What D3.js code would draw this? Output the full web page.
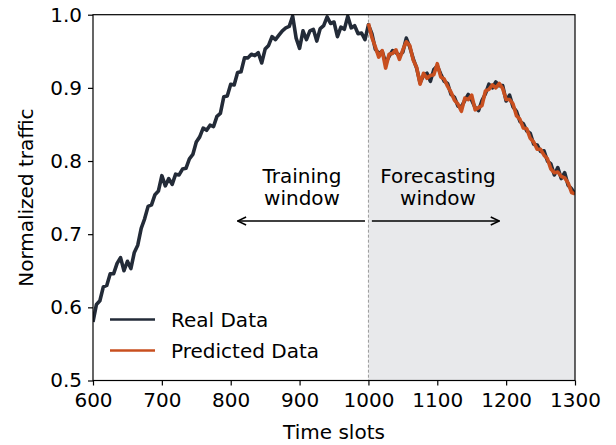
<!DOCTYPE html>
<html>
<head>
<meta charset="utf-8">
<script src="https://cdn.jsdelivr.net/npm/d3@7"></script>
<style>
  body { margin: 0; background: #fff; }
  text { font-family: "DejaVu Sans", sans-serif; fill: #000; }
</style>
</head>
<body>
<svg id="chart" width="616" height="445"></svg>
<script>
// data, one value every 5 time slots
var realStart = 600, step = 5;
var realValues = [
  0.580, 0.604, 0.609, 0.628, 0.630, 0.646, 0.646, 0.660, 0.668, 0.650,
  0.663, 0.653, 0.675, 0.685, 0.708, 0.721, 0.738, 0.740, 0.754, 0.759,
  0.780, 0.766, 0.776, 0.768, 0.782, 0.781, 0.789, 0.790, 0.803, 0.809,
  0.826, 0.833, 0.845, 0.842, 0.849, 0.847, 0.861, 0.865, 0.888, 0.889,
  0.905, 0.904, 0.921, 0.922, 0.941, 0.941, 0.946, 0.944, 0.948, 0.934,
  0.953, 0.958, 0.970, 0.966, 0.972, 0.978, 0.982, 0.984, 0.998, 0.968,
  0.954, 0.978, 0.966, 0.978, 0.980, 0.964, 0.981, 0.985, 0.997, 0.988,
  0.990, 0.970, 0.983, 0.980, 0.998, 0.982, 0.985, 0.974, 0.975, 0.966,
  0.986, 0.974, 0.953, 0.947, 0.950, 0.934, 0.943, 0.951, 0.948, 0.944,
  0.949, 0.968, 0.956, 0.940, 0.927, 0.907, 0.917, 0.920, 0.909, 0.925,
  0.930, 0.919, 0.909, 0.906, 0.891, 0.887, 0.875, 0.874, 0.883, 0.891,
  0.883, 0.873, 0.869, 0.883, 0.892, 0.905, 0.900, 0.908, 0.903, 0.903,
  0.882, 0.890, 0.874, 0.868, 0.854, 0.851, 0.841, 0.838, 0.823, 0.822,
  0.813, 0.814, 0.800, 0.796, 0.781, 0.791, 0.776, 0.784, 0.767, 0.762,
  0.755
];
var predStart = 1000;
var predValues = [
  0.988, 0.969, 0.956, 0.942, 0.951, 0.927, 0.946, 0.947, 0.952, 0.939,
  0.952, 0.963, 0.958, 0.938, 0.928, 0.905, 0.920, 0.913, 0.917, 0.918,
  0.933, 0.915, 0.912, 0.902, 0.894, 0.883, 0.878, 0.868, 0.886, 0.884,
  0.890, 0.870, 0.873, 0.876, 0.896, 0.898, 0.904, 0.900, 0.906, 0.899,
  0.884, 0.884, 0.878, 0.862, 0.857, 0.845, 0.844, 0.831, 0.826, 0.816,
  0.816, 0.808, 0.803, 0.789, 0.784, 0.785, 0.779, 0.777, 0.770, 0.757,
  0.755
];
var xTicks = [600, 700, 800, 900, 1000, 1100, 1200, 1300];
var yTicks = [0.5, 0.6, 0.7, 0.8, 0.9, 1.0];
var splitAt = 1000;
var arrowY = 0.718;
var trainArrow = [995, 810];
var forecastArrow = [1005, 1190];

var svg = d3.select("#chart");
var margin = {top: 14.7, right: 41, bottom: 64.5, left: 93};
var width = 616 - margin.left - margin.right;
var height = 445 - margin.top - margin.bottom;

var x = d3.scaleLinear().domain([600, 1300]).range([0, width]);
var y = d3.scaleLinear().domain([0.5, 1.0]).range([height, 0]);

var g = svg.append("g").attr("transform", "translate(" + margin.left + "," + margin.top + ")");

// forecasting window shading
g.append("rect")
  .attr("x", x(splitAt))
  .attr("y", 0)
  .attr("width", x(1300) - x(splitAt))
  .attr("height", height)
  .attr("fill", "#e8e9eb");

g.append("line")
  .attr("x1", x(splitAt)).attr("x2", x(splitAt))
  .attr("y1", 0).attr("y2", height)
  .attr("stroke", "#9a9a9a")
  .attr("stroke-width", 1)
  .attr("stroke-dasharray", "3,2");

var realData = realValues.map(function(v, i) { return {t: realStart + i * step, v: v}; });
var predData = predValues.map(function(v, i) { return {t: predStart + i * step, v: v}; });

var line = d3.line()
  .x(function(d) { return x(d.t); })
  .y(function(d) { return y(d.v); });

// clip so the peaks do not cross the top spine
g.append("clipPath").attr("id", "plot")
  .append("rect").attr("width", width).attr("height", height);

g.append("path")
  .datum(realData)
  .attr("d", line)
  .attr("clip-path", "url(#plot)")
  .attr("fill", "none")
  .attr("stroke", "#232b38")
  .attr("stroke-width", 3.6)
  .attr("stroke-linejoin", "round");

g.append("path")
  .datum(predData)
  .attr("d", line)
  .attr("clip-path", "url(#plot)")
  .attr("fill", "none")
  .attr("stroke", "#c84f1f")
  .attr("stroke-width", 3.6)
  .attr("stroke-linejoin", "round");

// axes
var xAxis = g.append("g")
  .attr("transform", "translate(0," + height + ")")
  .call(d3.axisBottom(x).tickValues(xTicks).tickSize(5).tickPadding(4).tickFormat(d3.format("d")));
var yAxis = g.append("g")
  .call(d3.axisLeft(y).tickValues(yTicks).tickSize(5).tickPadding(6).tickFormat(d3.format(".1f")));

[xAxis, yAxis].forEach(function(a) {
  a.select(".domain").remove();
  a.selectAll(".tick line").attr("stroke", "#000").attr("stroke-width", 1.2);
  a.selectAll(".tick text").style("font-size", "20px").attr("fill", "#000");
});
xAxis.selectAll(".tick text").attr("dy", "0.85em");

// frame
g.append("rect")
  .attr("width", width).attr("height", height)
  .attr("fill", "none")
  .attr("stroke", "#000")
  .attr("stroke-width", 1.2);

// axis titles
svg.append("text")
  .attr("x", margin.left + width / 2)
  .attr("y", 439)
  .attr("text-anchor", "middle")
  .style("font-size", "20px")
  .text("Time slots");

svg.append("text")
  .attr("transform", "translate(33," + (margin.top + height / 2) + ") rotate(-90)")
  .attr("text-anchor", "middle")
  .style("font-size", "20px")
  .text("Normalized traffic");

// annotations
svg.append("defs").append("marker")
  .attr("id", "head")
  .attr("viewBox", "0 0 10 10")
  .attr("refX", 9.5).attr("refY", 5)
  .attr("markerWidth", 10).attr("markerHeight", 10)
  .attr("markerUnits", "userSpaceOnUse")
  .attr("orient", "auto")
  .append("path")
  .attr("d", "M1,1 L9.5,5 L1,9")
  .attr("fill", "none")
  .attr("stroke", "#000")
  .attr("stroke-width", 1.5);

[trainArrow, forecastArrow].forEach(function(a) {
  g.append("line")
    .attr("x1", x(a[0])).attr("x2", x(a[1]))
    .attr("y1", y(arrowY)).attr("y2", y(arrowY))
    .attr("stroke", "#000")
    .attr("stroke-width", 1.5)
    .attr("marker-end", "url(#head)");
});

var notes = [
  {cx: 302, lines: ["Training", "window"]},
  {cx: 438, lines: ["Forecasting", "window"]}
];
notes.forEach(function(n) {
  n.lines.forEach(function(s, i) {
    svg.append("text")
      .attr("x", n.cx)
      .attr("y", 183 + i * 22)
      .attr("text-anchor", "middle")
      .style("font-size", "20px")
      .text(s);
  });
});

// legend
var legendItems = [
  {label: "Real Data", color: "#232b38"},
  {label: "Predicted Data", color: "#c84f1f"}
];
legendItems.forEach(function(d, i) {
  var ly = 319.5 + i * 31;
  svg.append("line")
    .attr("x1", 110).attr("x2", 155)
    .attr("y1", ly).attr("y2", ly)
    .attr("stroke", d.color)
    .attr("stroke-width", 2.7);
  svg.append("text")
    .attr("x", 171)
    .attr("y", ly + 7)
    .style("font-size", "20px")
    .text(d.label);
});
</script>
</body>
</html>
